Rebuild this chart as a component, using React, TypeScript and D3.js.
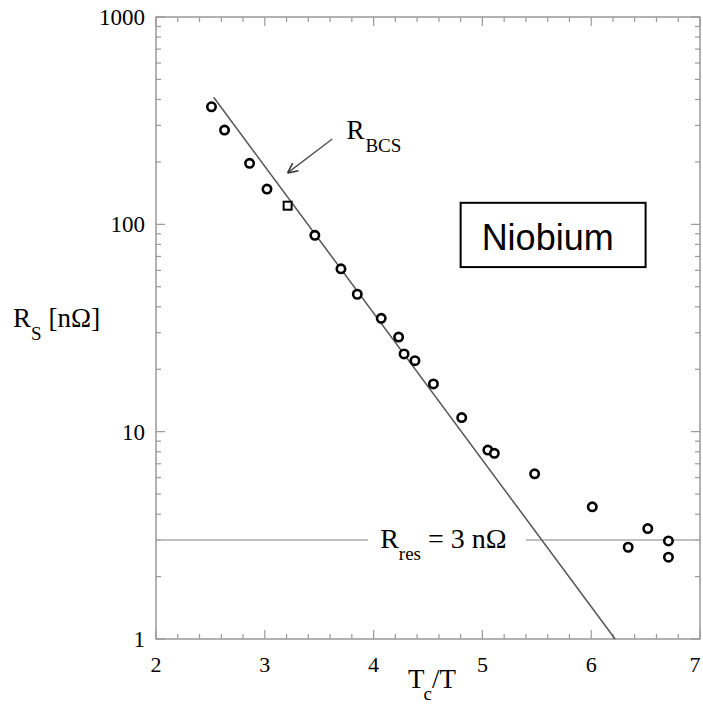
import React, { useRef, useEffect } from 'react';
import * as d3 from 'd3';

const tcOverT = [2.51, 2.63, 2.86, 3.02, 3.21, 3.46, 3.70, 3.85, 4.07, 4.23, 4.28, 4.38, 4.55, 4.81, 5.05, 5.11, 5.48, 6.01, 6.34, 6.52, 6.71, 6.71];
const rsValues = [369, 285, 197, 148, 123, 88.5, 61, 46, 35.2, 28.6, 23.7, 22, 17, 11.7, 8.15, 7.86, 6.26, 4.34, 2.77, 3.41, 2.97, 2.48];
const squareIdx = [4];

// BCS fit line end points
const bcsX = [2.53, 6.22];
const bcsR = [410, 1];

// residual resistance
const rRes = 3;
const resGap = [3.95, 5.4];

const xTicks = [2, 3, 4, 5, 6, 7];
const yTicks = [1, 10, 100, 1000];

const W = 703;
const H = 711;
const serif = '"Liberation Serif", "Times New Roman", serif';

const App = () => {
  const ref = useRef<SVGSVGElement>(null);

  useEffect(() => {
    const svg = d3.select(ref.current);
    svg.selectAll('*').remove();

    const x = d3.scaleLinear().domain([2, 7]).range([156, 700]);
    const y = d3.scaleLog().domain([1, 1000]).range([639, 17]);
    const [x0, x1] = x.range();
    const [y0, y1] = y.range();
    const axisCol = '#999';

    svg.append('rect').attr('width', W).attr('height', H).attr('fill', '#fff');

    const g = svg.append('g');

    // frame
    g.append('rect')
      .attr('x', x0).attr('y', y1)
      .attr('width', x1 - x0).attr('height', y0 - y1)
      .attr('fill', 'none').attr('stroke', axisCol).attr('stroke-width', 1.5);

    // x ticks (bottom + top), majors and minors
    const xMinor = d3.range(2, 7.001, 0.2);
    xMinor.forEach(v => {
      const major = Math.abs(v - Math.round(v)) < 1e-6;
      const len = major ? 9 : 5;
      g.append('line').attr('x1', x(v)).attr('x2', x(v)).attr('y1', y0).attr('y2', y0 - len)
        .attr('stroke', axisCol).attr('stroke-width', 1.2);
      g.append('line').attr('x1', x(v)).attr('x2', x(v)).attr('y1', y1).attr('y2', y1 + len)
        .attr('stroke', axisCol).attr('stroke-width', 1.2);
    });

    // y ticks (left + right)
    const yMinor: number[] = [];
    [1, 10, 100].forEach(dec => d3.range(1, 10).forEach(k => yMinor.push(dec * k)));
    yMinor.push(1000);
    yMinor.forEach(v => {
      const major = yTicks.includes(v);
      const len = major ? 9 : 5;
      g.append('line').attr('x1', x0).attr('x2', x0 + len).attr('y1', y(v)).attr('y2', y(v))
        .attr('stroke', axisCol).attr('stroke-width', 1.2);
      g.append('line').attr('x1', x1).attr('x2', x1 - len).attr('y1', y(v)).attr('y2', y(v))
        .attr('stroke', axisCol).attr('stroke-width', 1.2);
    });

    // tick labels
    g.selectAll('.xl').data(xTicks).join('text')
      .attr('x', d => Math.min(x(d), W - 8)).attr('y', y0 + 33)
      .attr('text-anchor', 'middle')
      .attr('font-family', serif).attr('font-size', 22)
      .text(d => d);
    g.selectAll('.yl').data(yTicks).join('text')
      .attr('x', x0 - 11).attr('y', d => y(d) + 8)
      .attr('text-anchor', 'end')
      .attr('font-family', serif).attr('font-size', 23)
      .text(d => d);

    // axis titles
    const xt = g.append('text').attr('x', 408).attr('y', 688)
      .attr('font-family', serif).attr('font-size', 27);
    xt.append('tspan').text('T');
    xt.append('tspan').attr('font-size', 19).attr('dy', 12).attr('dx', -1).text('c');
    xt.append('tspan').attr('dy', -12).text('/T');

    const yt = g.append('text').attr('x', 13).attr('y', 327)
      .attr('font-family', serif).attr('font-size', 27);
    yt.append('tspan').text('R');
    yt.append('tspan').attr('font-size', 19).attr('dy', 13).text('S');
    yt.append('tspan').attr('dy', -13).attr('dx', 7).text('[nΩ]');

    // residual line with a gap for its label
    [[2, resGap[0]], [resGap[1], 7]].forEach(([a, b]) => {
      g.append('line').attr('x1', x(a)).attr('x2', x(b)).attr('y1', y(rRes)).attr('y2', y(rRes))
        .attr('stroke', '#aaa').attr('stroke-width', 1.5);
    });
    const rl = g.append('text').attr('x', x(resGap[0]) + 12).attr('y', y(rRes) + 8)
      .attr('font-family', serif).attr('font-size', 28);
    rl.append('tspan').text('R');
    rl.append('tspan').attr('font-size', 19).attr('dy', 12).text('res');
    rl.append('tspan').attr('dy', -12).attr('dx', 7).text('= 3 nΩ');

    // BCS line
    g.append('path')
      .datum(bcsX.map((v, i) => [v, bcsR[i]] as [number, number]))
      .attr('fill', 'none').attr('stroke', '#555').attr('stroke-width', 1.5)
      .attr('d', d3.line<[number, number]>().x(d => x(d[0])).y(d => y(d[1])));

    // arrow + label for BCS
    const ax0 = 3.62, ay0 = 258, ax1 = 3.21, ay1 = 177;
    const px0 = x(ax0), py0 = y(ay0), px1 = x(ax1), py1 = y(ay1);
    g.append('line').attr('x1', px0).attr('y1', py0).attr('x2', px1).attr('y2', py1)
      .attr('stroke', '#555').attr('stroke-width', 1.5);
    const ang = Math.atan2(py1 - py0, px1 - px0);
    const hl = 11;
    [0.45, -0.45].forEach(da => {
      g.append('line').attr('x1', px1).attr('y1', py1)
        .attr('x2', px1 - hl * Math.cos(ang + da)).attr('y2', py1 - hl * Math.sin(ang + da))
        .attr('stroke', '#333').attr('stroke-width', 1.5);
    });
    const bl = g.append('text').attr('x', x(3.75)).attr('y', y(258))
      .attr('font-family', serif).attr('font-size', 27);
    bl.append('tspan').text('R');
    bl.append('tspan').attr('font-size', 19).attr('dy', 13).attr('dx', 1).text('BCS');

    // data markers
    tcOverT.forEach((t, i) => {
      if (squareIdx.includes(i)) {
        g.append('rect').attr('x', x(t) - 4).attr('y', y(rsValues[i]) - 4)
          .attr('width', 8).attr('height', 8)
          .attr('fill', '#fff').attr('stroke', '#000').attr('stroke-width', 2);
      } else {
        g.append('circle').attr('cx', x(t)).attr('cy', y(rsValues[i])).attr('r', 4.2)
          .attr('fill', '#fff').attr('stroke', '#000').attr('stroke-width', 2.6);
      }
    });

    // Niobium box
    const bx0 = x(4.8), bx1 = x(6.5), by0 = y(127), by1 = y(62.2);
    g.append('rect').attr('x', bx0).attr('y', by0).attr('width', bx1 - bx0).attr('height', by1 - by0)
      .attr('fill', '#fff').attr('stroke', '#000').attr('stroke-width', 2);
    g.append('text').attr('x', bx0 + 21).attr('y', by0 + 47)
      .attr('font-family', '"Liberation Sans", Arial, sans-serif').attr('font-size', 36)
      .text('Niobium');
  }, []);

  return (
    <svg ref={ref} width={W} height={H}
      style={{ position: 'absolute', left: 0, top: 0, display: 'block' }} />
  );
};

export default App;
